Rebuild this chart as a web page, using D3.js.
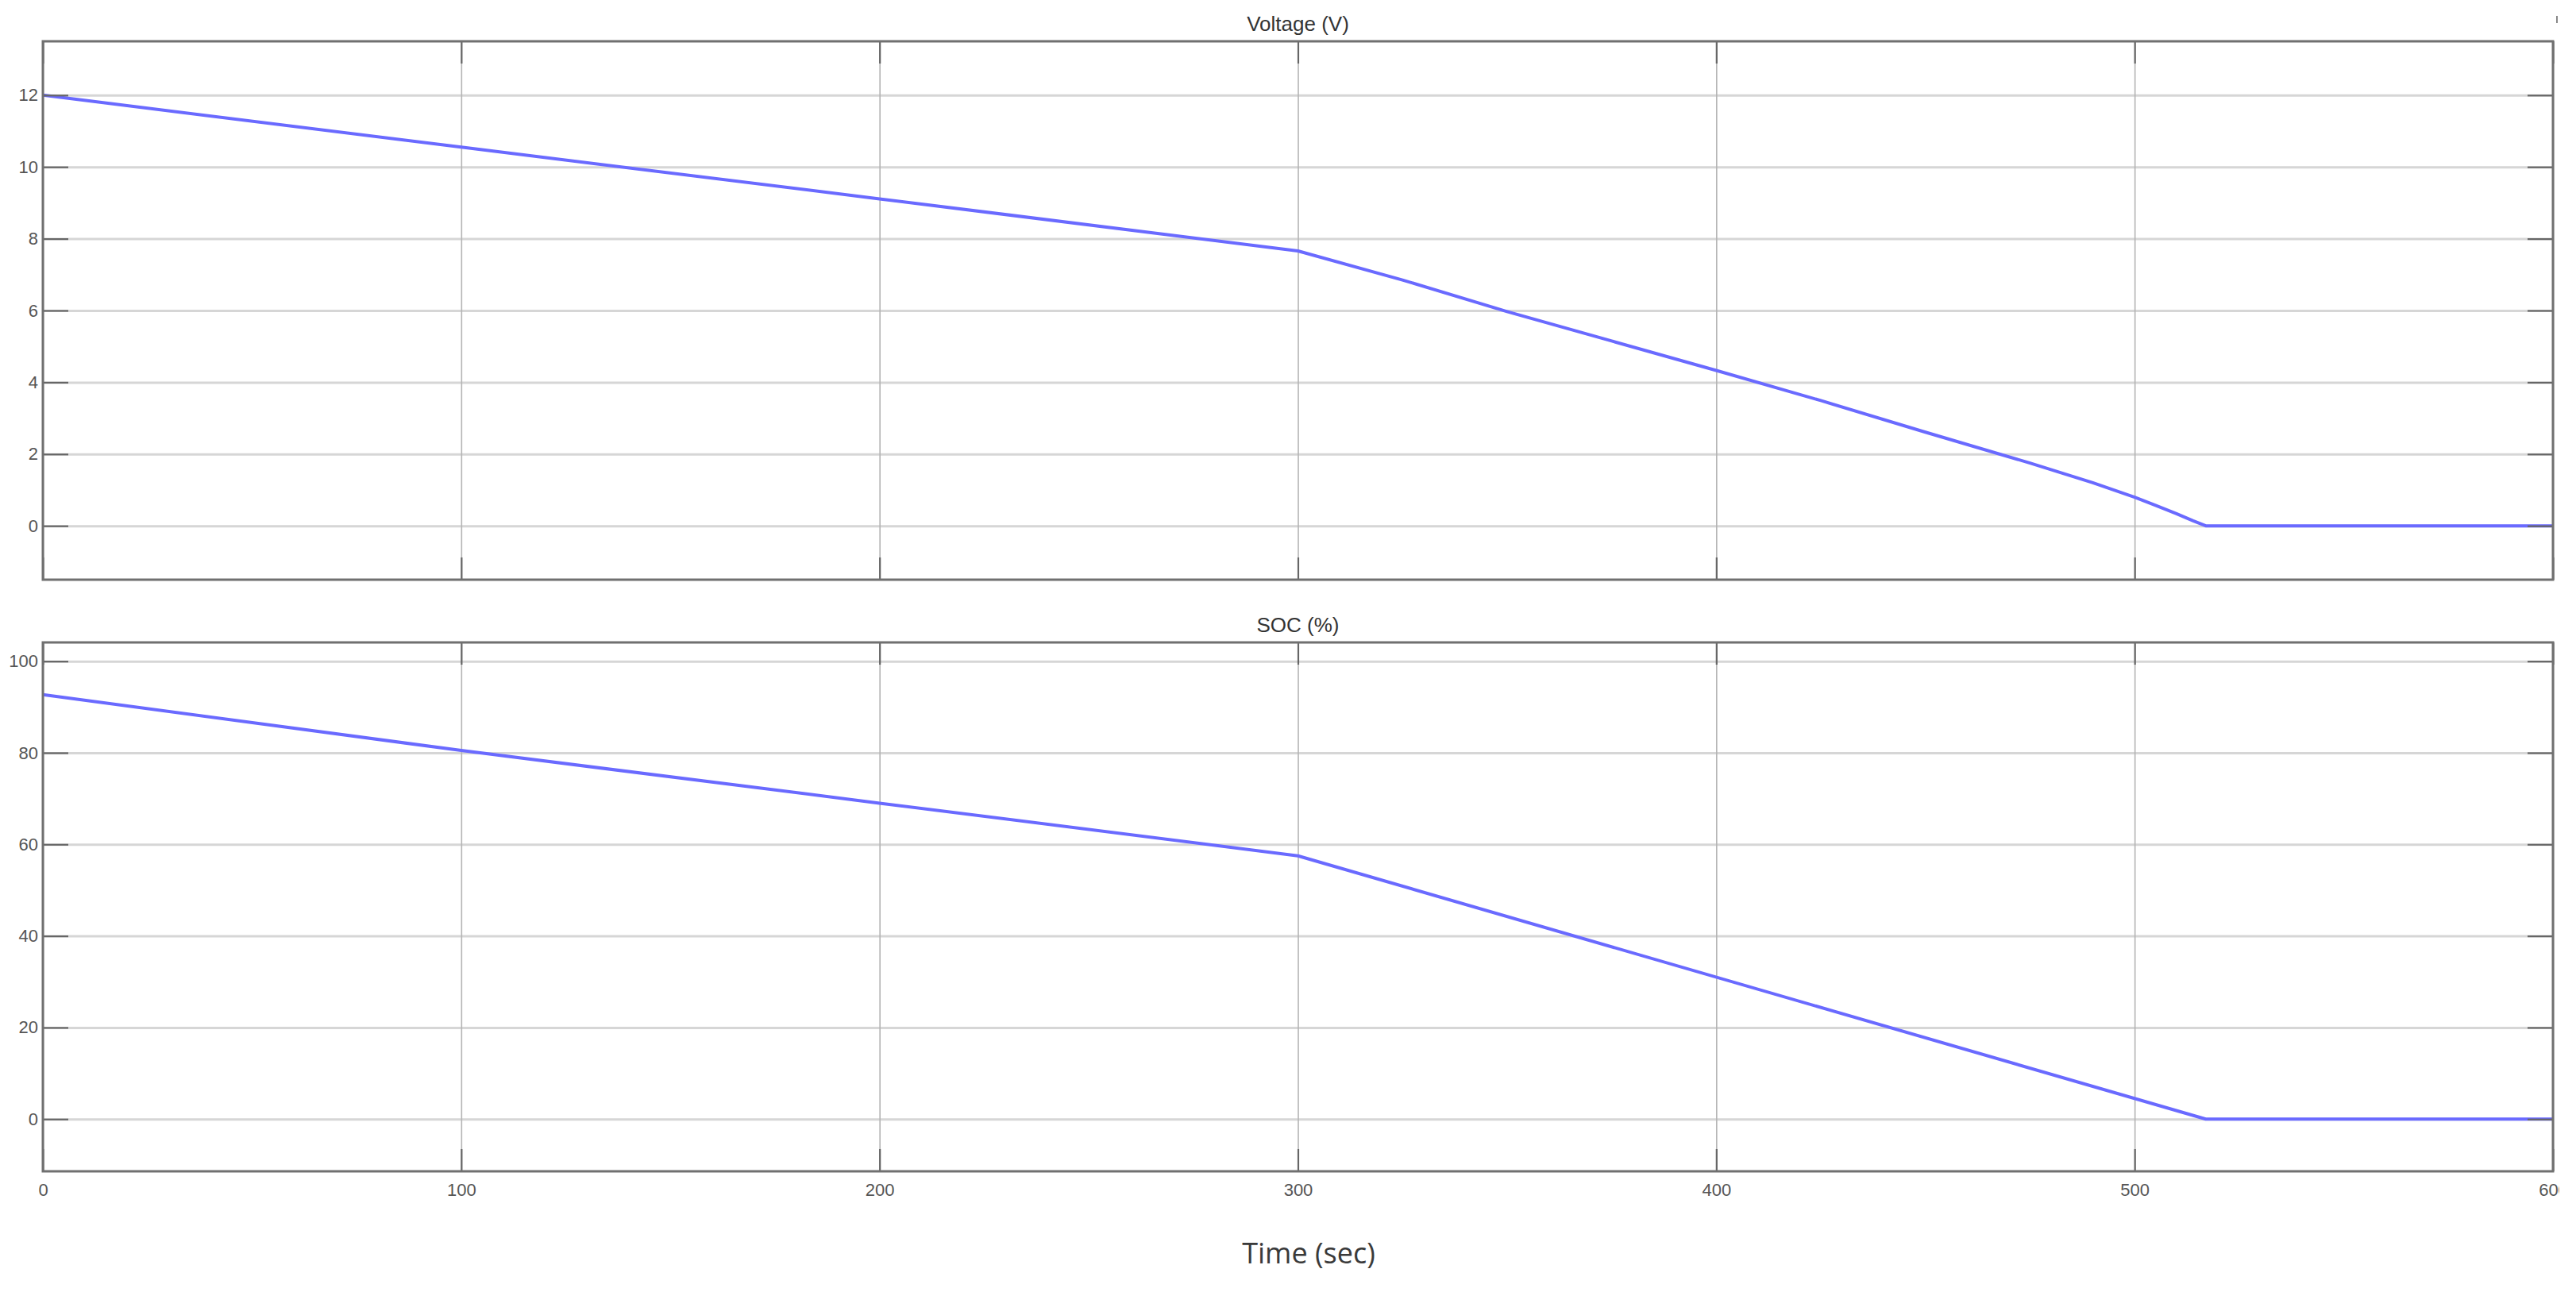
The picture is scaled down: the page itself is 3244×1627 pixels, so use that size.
<!DOCTYPE html>
<html>
<head>
<meta charset="utf-8">
<script src="https://cdn.jsdelivr.net/npm/d3@7"></script>
<style>
  body { margin: 0; background: #fff; }
  svg { display: block; }
  .tick text { font-family: "Liberation Sans", Arial, sans-serif; font-size: 22px; fill: #555; }
  .ttl { font-family: "Liberation Sans", Arial, sans-serif; font-size: 26px; fill: #333; }
</style>
</head>
<body>
<svg id="chart" width="3244" height="1627"></svg>
<script>
// values
const timeV = [0, 100, 200, 300, 325, 350, 375, 400, 425, 450, 475, 490, 500, 505, 510, 514, 517, 600];
const voltage = [12, 10.55, 9.11, 7.66, 6.85, 5.97, 5.15, 4.33, 3.49, 2.61, 1.75, 1.2, 0.8, 0.57, 0.34, 0.14, 0, 0];
const timeSoc = [0, 100, 200, 300, 517, 600];
const soc = [92.7, 80.5, 69.0, 57.5, 0, 0];
const xTicks = [0, 100, 200, 300, 400, 500, 600];
const voltTicks = [0, 2, 4, 6, 8, 10, 12];
const socTicks = [0, 20, 40, 60, 80, 100];

let svg = d3.select('#chart');
let left = 54, right = 3215;

let x = d3.scaleLinear().domain([0, 600]).range([left, right]);

svg.append('clipPath').attr('id', 'edge')
  .append('rect').attr('x', 0).attr('y', -100).attr('width', 3223).attr('height', 200);

function drawPanel(opts) {
  let y = d3.scaleLinear().domain(opts.domain).range([opts.bottom, opts.top]);
  let g = svg.append('g');
  let w = right - left, h = opts.bottom - opts.top;

  // grid
  g.append('g')
    .attr('transform', 'translate(' + left + ',0)')
    .call(d3.axisLeft(y).tickValues(opts.ticks).tickSize(-w).tickFormat(''))
    .call(a => a.select('.domain').remove())
    .selectAll('line').attr('stroke', '#d6d6d6').attr('stroke-width', 3);
  g.append('g')
    .attr('transform', 'translate(0,' + opts.bottom + ')')
    .call(d3.axisBottom(x).tickValues(xTicks).tickSize(-h).tickFormat(''))
    .call(a => a.select('.domain').remove())
    .selectAll('line').attr('stroke', '#b4b4b4').attr('stroke-width', 1.6);

  // data
  let pts = opts.xs.map((t, i) => [t, opts.ys[i]]);
  g.append('path')
    .datum(pts)
    .attr('d', d3.line().x(d => x(d[0])).y(d => y(d[1])))
    .attr('fill', 'none')
    .attr('stroke', '#6a6aff')
    .attr('stroke-width', 4)
    .attr('stroke-linejoin', 'round');

  // ticks inside the frame
  let yl = g.append('g').attr('transform', 'translate(' + left + ',0)')
    .call(d3.axisLeft(y).tickValues(opts.ticks).tickSize(-32).tickPadding(6));
  let yr = g.append('g').attr('transform', 'translate(' + right + ',0)')
    .call(d3.axisRight(y).tickValues(opts.ticks).tickSize(-32).tickFormat(''));
  let xt = g.append('g').attr('transform', 'translate(0,' + opts.top + ')')
    .call(d3.axisTop(x).tickValues(xTicks).tickSize(-28).tickFormat(''));
  let xb = g.append('g').attr('transform', 'translate(0,' + opts.bottom + ')')
    .call(d3.axisBottom(x).tickValues(xTicks).tickSize(-28).tickPadding(15)
      .tickFormat(opts.xLabels ? d3.format('d') : ''));
  if (opts.xLabels) xb.attr('clip-path', 'url(#edge)');
  [yl, yr, xt, xb].forEach(a => {
    a.select('.domain').remove();
    a.selectAll('line').attr('stroke', '#666').attr('stroke-width', 2.2);
  });

  // frame
  g.append('rect')
    .attr('x', left).attr('y', opts.top)
    .attr('width', w).attr('height', h)
    .attr('fill', 'none').attr('stroke', '#707070').attr('stroke-width', 3);

  g.append('text').attr('class', 'ttl')
    .attr('x', (left + right) / 2).attr('y', opts.top - 13)
    .attr('text-anchor', 'middle')
    .text(opts.title);
}

drawPanel({ title: 'Voltage (V)', top: 52, bottom: 730, domain: [-1.5, 13.5],
  ticks: voltTicks, xs: timeV, ys: voltage, xLabels: false });
drawPanel({ title: 'SOC (%)', top: 809, bottom: 1475, domain: [-11.4, 104.1],
  ticks: socTicks, xs: timeSoc, ys: soc, xLabels: true });

svg.append('text')
  .attr('x', 1648).attr('y', 1591)
  .attr('text-anchor', 'middle')
  .style('font-family', '"Open Sans", "Noto Sans", sans-serif')
  .style('font-size', '36px')
  .style('fill', '#3a3a3a')
  .text('Time (sec)');

// little mark at the top right corner
svg.append('line')
  .attr('x1', 3220).attr('x2', 3220).attr('y1', 20).attr('y2', 29)
  .attr('stroke', '#888').attr('stroke-width', 2);
</script>
</body>
</html>
